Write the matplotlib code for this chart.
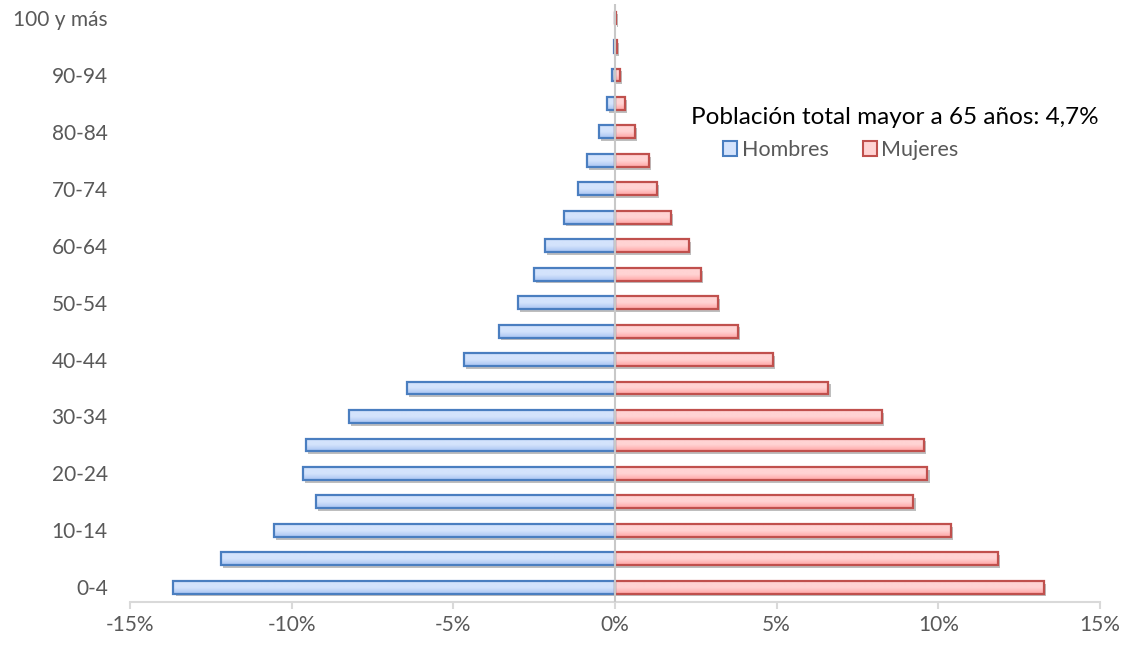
import numpy as np
import matplotlib
matplotlib.use("Agg")
import matplotlib.pyplot as plt
import matplotlib.patheffects as pe
from matplotlib.colors import LinearSegmentedColormap
from matplotlib.patches import Patch

plt.rcParams['font.family'] = ['Lato', 'DejaVu Sans']

# Age groups, youngest first
grupos = ["0-4", "5-9", "10-14", "15-19", "20-24", "25-29", "30-34", "35-39",
          "40-44", "45-49", "50-54", "55-59", "60-64", "65-69", "70-74",
          "75-79", "80-84", "85-89", "90-94", "95-99", "100 y más"]

# Share of total population (%), men drawn on the negative side
hombres = [-13.66, -12.20, -10.55, -9.25, -9.66, -9.56, -8.22, -6.44, -4.68,
           -3.60, -3.00, -2.51, -2.17, -1.59, -1.14, -0.88, -0.50, -0.24,
           -0.08, -0.03, -0.01]
mujeres = [13.26, 11.84, 10.39, 9.23, 9.66, 9.56, 8.25, 6.60, 4.88, 3.81,
           3.19, 2.66, 2.29, 1.73, 1.29, 1.04, 0.62, 0.31, 0.15, 0.05, 0.03]

xticks = [-15, -10, -5, 0, 5, 10, 15]
xticklabels = ["-15%", "-10%", "-5%", "0%", "5%", "10%", "15%"]
titulo = "Población total mayor a 65 años: 4,7%"

fig = plt.figure(figsize=(11.29, 6.45), dpi=100)
ax = fig.add_axes([130 / 1129, 1 - 601.5 / 645, (1100 - 130) / 1129, (601.5 - 3.8) / 645])

y = np.arange(len(grupos))
alto = 0.45

estilos = {
    "Hombres": dict(vals=hombres, edge="#4A7EC0", light="#D4E3FC", dark="#A8C4F2"),
    "Mujeres": dict(vals=mujeres, edge="#C0504D", light="#FFD3D3", dark="#FFA4A4"),
}

sombra = [pe.SimplePatchShadow(offset=(1.6, -2.0), shadow_rgbFace="#7f7f7f", alpha=0.5),
          pe.Normal()]

for nombre, st in estilos.items():
    base = ax.barh(y, st["vals"], height=alto, color=st["dark"], edgecolor="none",
                   zorder=2)
    for b in base:
        b.set_path_effects(sombra)
    cmap = LinearSegmentedColormap.from_list(nombre, [st["dark"], st["light"], st["light"]])
    grad = np.linspace(0, 1, 64).reshape(-1, 1)
    for b in base:
        x0, y0 = b.get_x(), b.get_y()
        w, h = b.get_width(), b.get_height()
        im = ax.imshow(grad, extent=[x0, x0 + w, y0, y0 + h], origin="lower",
                       aspect="auto", cmap=cmap, zorder=2.1, interpolation="bilinear")
        im.set_clip_path(b)
    ax.barh(y, st["vals"], height=alto, fill=False, edgecolor=st["edge"],
            linewidth=1.6, zorder=2.2)

ax.axvline(0, color="#C8C8C8", linewidth=1.5, zorder=3)

ax.set_xlim(-15, 15)
ax.set_ylim(-0.5, len(grupos) - 0.5)

ax.set_xticks(xticks)
ax.set_xticklabels(xticklabels)
ax.set_yticks(y[::2])
ax.set_yticklabels(grupos[::2])

for s in ["top", "right", "left"]:
    ax.spines[s].set_visible(False)
ax.spines["bottom"].set_color("#D9D9D9")
ax.spines["bottom"].set_linewidth(1.5)

ax.tick_params(axis="x", colors="#D9D9D9", width=1.5, length=5, pad=5,
               labelcolor="#595959", labelsize=15)
ax.tick_params(axis="y", length=0, pad=16, labelcolor="#595959", labelsize=15)

fig.text(895 / 1129, 1 - 117 / 645, titulo, ha="center", va="center",
         fontsize=17.5, color="black")

handles = [Patch(facecolor=estilos[k]["light"], edgecolor=estilos[k]["edge"], linewidth=1.5,
                 label=k) for k in estilos]
leg = fig.legend(handles=handles, loc="center", bbox_to_anchor=(841 / 1129, 1 - 150 / 645),
                 ncol=2, frameon=False, fontsize=15.5, handlelength=0.65, handleheight=0.65,
                 handletextpad=0.2, columnspacing=1.6)
for t in leg.get_texts():
    t.set_color("#595959")

fig.savefig("out.png", dpi=100)
